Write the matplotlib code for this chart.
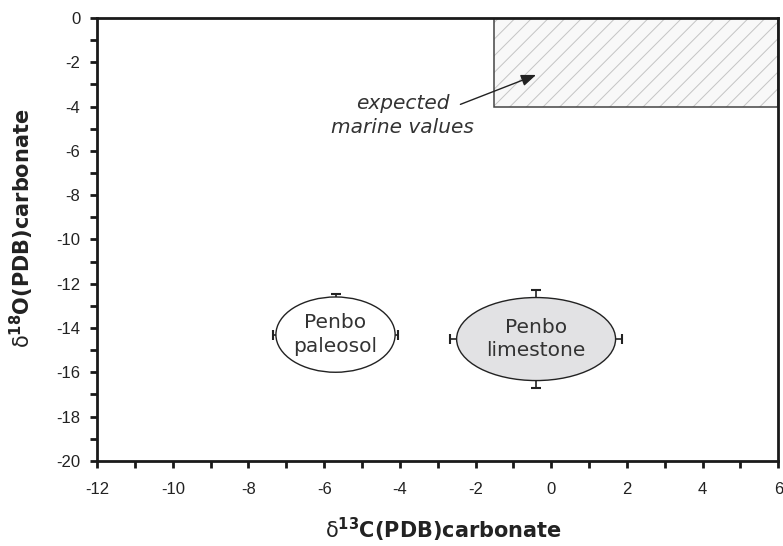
import matplotlib
matplotlib.use("Agg")
import matplotlib.pyplot as plt
from matplotlib.patches import Ellipse, Rectangle

# Data
group_names = ["Penbo\npaleosol", "Penbo\nlimestone"]
center_c13 = [-5.7, -0.4]
center_o18 = [-14.3, -14.5]
ellipse_width = [3.15, 4.2]
ellipse_height = [3.4, 3.75]
xerr_c13 = [1.65, 2.27]
yerr_o18_low = [1.5, 2.2]
yerr_o18_high = [1.85, 2.2]
fill_colors = ["white", "#e2e2e4"]

marine_c13 = [-1.5, 6.0]
marine_o18 = [-4.0, 0.0]
arrow_head = (-0.4, -2.57)
arrow_tail = (-2.4, -3.9)
note_pos = (-3.93, -4.4)

x_ticks = [-12, -10, -8, -6, -4, -2, 0, 2, 4, 6]
y_ticks = [0, -2, -4, -6, -8, -10, -12, -14, -16, -18, -20]

fig = plt.figure(figsize=(7.83, 5.46), dpi=100)
ax = fig.add_axes([0.124, 0.156, 0.870, 0.811])
ax.set_xlim(-12, 6)
ax.set_ylim(-20, 0)

# marine box
mx0, mx1 = marine_c13
my0, my1 = marine_o18
plt.rcParams['hatch.linewidth'] = 0.7
ax.add_patch(Rectangle((mx0, my0), mx1 - mx0, my1 - my0, facecolor="#f8f8f8",
                       edgecolor="#c4c4c4", hatch="//", linewidth=0, zorder=1))
ax.add_patch(Rectangle((mx0, my0), mx1 - mx0, my1 - my0, facecolor="none",
                       edgecolor="#444444", linewidth=1.1, zorder=2))

for i in range(len(group_names)):
    ax.errorbar(center_c13[i], center_o18[i], xerr=xerr_c13[i],
                yerr=[[yerr_o18_low[i]], [yerr_o18_high[i]]],
                fmt="none", ecolor="#222222", elinewidth=1.2, capsize=3.5,
                capthick=1.5, zorder=3)
    ax.add_patch(Ellipse((center_c13[i], center_o18[i]), ellipse_width[i],
                         ellipse_height[i], facecolor=fill_colors[i],
                         edgecolor="#222222", linewidth=1.0, zorder=4))
    ax.text(center_c13[i], center_o18[i], group_names[i], ha="center", va="center",
            fontsize=14.5, color="#333333", family="DejaVu Sans", zorder=5,
            linespacing=1.3)

ax.text(note_pos[0], note_pos[1], "expected\nmarine values", ha="center", va="center",
        fontsize=14.5, style="italic", color="#333333", family="DejaVu Sans",
        linespacing=1.3, zorder=6)
ax.annotate("", xy=arrow_head, xytext=arrow_tail,
            arrowprops=dict(arrowstyle="-|>,head_length=0.9,head_width=0.35",
                            color="#222222", lw=1.0, shrinkA=0, shrinkB=0),
            zorder=6)

for s in ax.spines.values():
    s.set_linewidth(2.0)
    s.set_color("#1a1a1a")
    s.set_zorder(7)

ax.set_xticks(x_ticks)
ax.set_yticks(y_ticks)
ax.set_xticks(range(-11, 6, 2), minor=True)
ax.set_yticks(range(-19, 0, 2), minor=True)
ax.set_xticklabels([str(v) for v in x_ticks])
ax.set_yticklabels([str(v) for v in y_ticks])
ax.tick_params(which="both", direction="out", length=5, width=2, color="#1a1a1a",
               top=False, right=False)
ax.tick_params(axis="x", which="major", pad=10)
ax.tick_params(axis="y", which="major", pad=7)
for lab in ax.get_xticklabels() + ax.get_yticklabels():
    lab.set_family("Liberation Sans")
    lab.set_fontsize(12)
    lab.set_color("#222222")

ax.set_xlabel(r"$\mathrm{\delta}^{\mathbf{13}}$C(PDB)carbonate", fontsize=15,
              fontweight="bold", family="DejaVu Sans", color="#222222")
ax.set_ylabel(r"$\mathrm{\delta}^{\mathbf{18}}$O(PDB)carbonate", fontsize=15,
              fontweight="bold", family="DejaVu Sans", color="#222222")
ax.xaxis.set_label_coords(0.508, -0.124)
ax.yaxis.set_label_coords(-0.09, 0.526)

fig.savefig("out.png", dpi=100)
